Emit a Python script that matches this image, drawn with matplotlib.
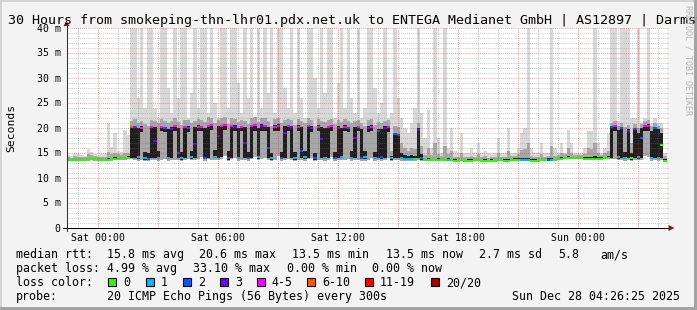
import matplotlib
matplotlib.use('Agg')
import matplotlib.pyplot as plt
from matplotlib.patches import Rectangle, Polygon
from matplotlib.collections import LineCollection
import numpy as np

W, H = 697, 310
STEP = 1 / 6                      # 10-minute steps, in hours
SAT0 = 1 + 33 / 60 + 35 / 3600    # hours from graph start to Sat 00:00

title = "30 Hours from smokeping-thn-lhr01.pdx.net.uk to ENTEGA Medianet GmbH | AS12897 | Darmstadt"
x_tick_labels = ["Sat 00:00", "Sat 06:00", "Sat 12:00", "Sat 18:00", "Sun 00:00"]
y_ticks = [0, 5, 10, 15, 20, 25, 30, 35, 40]
y_tick_labels = ["0", "5 m", "10 m", "15 m", "20 m", "25 m", "30 m", "35 m", "40 m"]
loss_labels = ["0", "1", "2", "3", "4-5", "6-10", "11-19", "20/20"]
loss_colors = ["#26ff00", "#00b8ff", "#0059ff", "#6a00ff", "#ff00ff", "#ff5500", "#ff0000", "#a00000"]

# median rtt (ms) per 10-minute step
med = [13.6,13.6,13.7,13.7,13.6,13.6,13.8,13.9,13.8,13.7,13.6,13.6,13.7,13.8,13.9,14.0,14.0,14.0,14.1,
       20.3,20.2,14.2,20.1,14.0,13.8,20.3,17.5,14.1,20.2,20.0,14.0,
       19.8,20.4,15.0,14.1,20.3,20.1,14.2,16.8,20.3,20.2,14.0,20.5,
       20.6,14.3,18.5,20.4,20.6,14.1,20.5,20.3,14.0,20.2,17.0,14.1,
       20.4,20.6,14.2,20.5,20.4,16.0,14.0,20.3,20.5,14.1,19.0,20.4,
       20.2,14.0,20.3,15.5,14.2,20.4,20.1,14.0,20.3,17.8,14.1,20.2,
       20.4,14.0,20.1,14.3,20.3,20.0,14.1,18.0,20.2,14.0,14.2,20.1,
       20.3,14.0,19.5,14.2,20.0,20.2,14.0,18.8,18.6,14.1,13.9,13.8,
       13.9,13.8,19.7,14.0,13.6,
       13.7,13.7,13.6,13.7,13.6,13.6,13.7,13.6,13.5,13.5,13.6,13.5,
       13.5,13.5,13.6,13.6,13.5,13.5,13.4,13.5,13.5,13.6,13.6,13.5,
       13.5,13.6,13.7,13.7,13.6,13.7,13.7,13.5,13.5,13.5,13.6,13.6,
       13.7,13.7,13.6,13.8,13.9,14.0,14.0,14.0,14.0,14.0,14.0,13.9,
       13.9,13.9,13.9,13.9,13.9,14.0,14.0,
       20.3,20.4,14.2,20.0,14.0,19.5,14.0,19.8,14.3,18.0,20.4,20.5,14.1,20.0,14.0,16.6,13.5]

# lost pings (of 20) per step
loss = [0]*19 + [
       7,2,1,4,1,2,5,3,1,4,2,1,
       3,5,2,1,4,2,1,3,5,4,2,5,
       4,1,3,5,4,2,4,3,1,5,3,2,
       4,5,1,3,4,2,1,5,4,2,3,4,
       3,1,5,2,1,4,3,2,5,3,1,4,
       5,2,3,1,4,2,1,3,4,2,1,3,
       4,1,2,2,3,4,1,2,2,1,1,1,
       1,0,3,2,0,
       0,0,0,0,0,0,1,0,0,0,0,0,
       0,0,0,0,0,0,0,0,0,0,0,0,
       0,0,0,0,1,1,1,0,0,0,0,0,
       2,1,0,0,0,0,0,0,0,0,0,0,
       0,0,0,0,0,0,0,
       2,4,1,2,1,3,0,2,1,2,4,5,1,2,1,0,0]

# smoke: min ping, dense core low/high, 90% ping, max ping (ms)
lo = [13.4,13.4,13.5,13.5,13.4,13.4,13.5,13.6,13.5,13.5,13.4,13.4,13.5,13.5,13.6,13.7,13.7,13.7,13.8,
      13.8,13.6,13.5,13.6,13.5,13.4,13.7,13.6,13.5,13.7,13.8,13.5,
      13.6,13.7,13.6,13.4,13.7,13.9,13.6,13.6,13.8,14.2,13.5,13.8,
      13.7,13.6,13.7,13.8,14.5,13.5,13.8,14.0,13.5,13.7,13.6,13.5,
      13.8,14.3,13.6,13.8,14.0,13.6,13.5,13.7,14.4,13.5,13.7,13.8,
      13.7,13.4,13.7,13.6,13.5,13.8,14.0,13.4,13.7,13.6,13.5,13.7,
      14.2,13.5,13.7,13.6,13.7,13.9,13.5,13.6,13.7,13.5,13.5,13.7,
      14.0,13.5,13.6,13.5,13.7,14.0,13.5,13.6,13.6,13.5,13.5,13.5,
      13.5,13.5,13.6,13.5,13.4,
      13.5,13.5,13.4,13.5,13.4,13.4,13.5,13.4,13.3,13.3,13.4,13.3,
      13.3,13.3,13.4,13.4,13.3,13.3,13.2,13.3,13.3,13.4,13.4,13.3,
      13.3,13.4,13.5,13.5,13.4,13.5,13.5,13.3,13.3,13.3,13.4,13.4,
      13.5,13.5,13.4,13.6,13.7,13.8,13.8,13.8,13.8,13.8,13.8,13.7,
      13.7,13.7,13.7,13.7,13.7,13.8,13.8,
      13.8,13.8,13.6,13.7,13.5,13.6,13.5,13.6,13.6,13.6,14.5,14.2,13.5,13.6,13.5,13.6,13.4]

core_lo = [13.5,13.5,13.6,13.6,13.5,13.5,13.7,13.8,13.7,13.6,13.5,13.5,13.6,13.7,13.8,13.9,13.9,13.9,14.0,
      14.0,14.0,13.9,19.3,13.7,13.6,14.1,14.0,13.8,19.4,19.2,13.8,
      14.0,19.5,14.0,13.7,14.0,19.3,13.9,14.0,19.5,19.4,13.8,14.1,
      19.6,14.0,14.1,14.2,19.6,13.7,14.1,19.4,13.8,19.4,14.0,13.9,
      14.1,19.5,13.9,19.5,19.4,14.0,13.7,19.4,19.5,13.8,14.1,19.4,
      14.0,13.7,19.5,14.0,13.9,14.1,19.3,13.7,19.4,14.0,13.8,14.0,
      19.4,13.8,14.0,14.0,19.5,19.2,13.8,14.0,19.4,13.8,13.8,19.3,
      19.4,13.8,14.0,13.9,14.0,19.2,13.7,14.0,14.0,13.8,13.7,13.6,
      13.7,13.6,14.0,13.7,13.5,
      13.6,13.6,13.5,13.6,13.5,13.5,13.6,13.5,13.4,13.4,13.5,13.4,
      13.4,13.4,13.5,13.5,13.4,13.4,13.3,13.4,13.4,13.5,13.5,13.4,
      13.4,13.5,13.6,13.6,13.5,13.6,13.6,13.4,13.4,13.4,13.5,13.5,
      13.6,13.6,13.5,13.7,13.8,13.9,13.9,13.9,13.9,13.9,13.9,13.8,
      13.8,13.8,13.8,13.8,13.8,13.9,13.9,
      14.1,19.5,13.9,14.0,13.8,14.0,13.7,14.0,13.9,14.0,19.5,19.4,13.8,14.0,13.8,14.0,13.5]

core_hi = [13.8,13.8,13.9,13.9,13.8,13.8,14.1,14.1,14.0,13.9,13.8,13.8,14.0,14.1,14.2,14.3,14.3,14.3,14.4,
      20.5,20.4,20.0,20.4,15.2,15.0,20.5,20.2,15.4,20.5,20.3,19.9,
      20.2,20.6,20.0,15.2,20.5,20.4,15.5,20.2,20.6,20.5,20.0,20.7,
      20.8,15.6,20.4,20.7,20.9,15.4,20.7,20.6,20.0,20.5,20.2,15.3,
      20.7,20.9,20.1,20.8,20.7,20.3,15.0,20.6,20.8,15.3,20.4,20.7,
      20.5,15.3,20.6,20.2,15.5,20.7,20.4,15.1,20.6,20.3,20.0,20.5,
      20.7,15.2,20.4,20.0,20.6,20.3,15.4,20.2,20.5,19.8,15.5,20.4,
      20.6,15.2,19.9,19.8,20.4,20.5,14.5,19.0,18.8,15.0,14.6,14.4,
      14.6,14.4,20.0,14.8,13.9,
      14.0,13.9,13.9,14.0,13.8,13.9,14.0,13.9,13.8,13.7,13.9,13.7,
      13.8,13.8,13.9,13.9,13.7,13.8,13.7,13.8,13.7,13.9,13.9,13.8,
      13.9,13.9,14.0,14.1,14.0,14.1,14.1,13.8,13.8,13.7,13.9,13.9,
      14.1,14.0,13.9,14.1,14.2,14.3,14.4,14.3,14.3,14.3,14.3,14.2,
      14.3,14.2,14.4,14.2,14.2,14.3,14.4,
      20.5,20.6,19.6,20.2,15.2,19.8,15.0,20.0,19.0,20.0,20.7,20.8,19.5,20.2,19.8,19.0,13.9]

mid_hi = [14.2,14.1,14.4,14.3,14.2,14.2,14.8,14.6,14.4,14.3,14.2,14.3,15.2,14.8,15.0,14.9,14.7,15.1,15.0,
      21.5,21.8,21.0,21.5,20.8,20.5,21.6,21.4,21.0,21.8,21.5,21.0,
      21.4,22.0,21.3,20.6,21.7,21.6,21.0,21.5,21.8,21.7,21.2,22.2,
      22.0,21.0,21.6,22.0,22.2,20.8,22.0,21.8,21.2,21.7,21.4,20.8,
      22.0,22.3,21.3,22.1,22.0,21.5,20.5,21.8,22.1,21.0,21.6,21.9,
      21.7,20.6,21.8,21.4,21.0,22.0,21.6,20.5,21.8,21.5,21.2,21.7,
      21.9,20.8,21.6,21.2,21.8,21.4,21.0,21.4,21.7,21.0,20.5,21.6,
      21.8,20.6,21.2,21.0,21.5,21.6,15.5,20.5,20.2,17.0,16.0,15.5,
      16.0,15.8,21.0,16.5,14.6,
      16.0,14.6,17.0,14.8,14.4,16.5,14.8,15.5,14.3,14.2,15.0,14.2,
      14.2,14.5,14.3,14.8,14.2,14.4,14.1,14.2,14.2,15.0,14.3,14.2,
      15.5,14.4,14.5,14.8,15.6,15.8,17.0,14.5,14.2,14.2,14.8,14.3,
      14.5,16.5,14.5,14.6,15.0,14.8,16.0,15.0,14.7,14.7,14.7,14.8,
      16.0,15.8,17.0,15.0,14.6,15.0,15.5,
      21.0,21.5,20.5,21.0,20.3,20.6,17.0,20.8,20.0,20.8,21.5,21.6,20.5,21.0,20.5,20.0,14.5]

hi = [14.6,14.4,15.0,14.9,14.6,14.5,15.8,15.2,14.9,14.7,14.8,15.0,21.0,16.2,19.0,15.5,15.2,19.6,18.6,
      45,45,26,45,24,45,45,24,22,45,45,28,
      23,45,26,45,45,22,27,45,24,45,45,23,
      45,25,22,45,45,24,45,45,29,23,45,26,
      45,22,45,24,45,27,45,23,45,45,28,24,
      45,23,45,26,22,45,45,30,24,45,27,45,
      45,22,29,45,24,45,26,23,45,22,24,45,
      45,28,23,25,45,22,23,45,26,22,20,19,
      21,24,45,23,18,
      23.6,16,45,18,15,45,16,20,15.5,15,19,15,
      15,16,15,17,15,15.5,15,14.8,15,18,15,15,
      20,15,15,16,19,20,45,16,15,15,17,15,
      15,45,16,15,17,15,19.6,17,15,15,15,16,
      19.5,19.5,45,17,15,16,19,
      45,45,21.5,45,45,45,22,22,45,21,22,45,21,22,21,21,15]

legend_rtt = [("median rtt:", 16), ("15.8 ms avg", 107.3), ("20.6 ms max", 199.3),
              ("13.5 ms min", 291.7), ("13.5 ms now", 385.7), ("2.7 ms sd", 479.3),
              ("5.8", 558.3), ("am/s", 600)]
legend_loss = [("packet loss:", 16), ("4.99 % avg", 107.3), ("33.10 % max", 192.7),
               ("0.00 % min", 286.7), ("0.00 % now", 372.3)]
box_x = [108.3, 145.7, 182.7, 220, 256.7, 307, 365, 430.7]
probe_text = "20 ICMP Echo Pings (56 Bytes) every 300s"
stamp_text = "Sun Dec 28 04:26:25 2025"


def loss_index(n):
    if n <= 3:
        return n
    if n <= 5:
        return 4
    if n <= 10:
        return 5
    if n <= 19:
        return 6
    return 7


def fx(px):
    return px / W


def fy(py):
    return 1 - py / H


MONO = 'DejaVu Sans Mono'
fig = plt.figure(figsize=(W / 100, H / 100), dpi=100)
fig.patch.set_facecolor('#f3f3f3')

# frame
fig.add_artist(Rectangle((0, fy(2)), 1, 2 / H, transform=fig.transFigure, color='#d4d4d4', lw=0))
fig.add_artist(Rectangle((0, 0), 2 / W, 1, transform=fig.transFigure, color='#d4d4d4', lw=0))
fig.add_artist(Rectangle((0, 0), 1, 3 / H, transform=fig.transFigure, color='#a4a4a4', lw=0))
fig.add_artist(Rectangle((fx(694), 0), 3 / W, 1, transform=fig.transFigure, color='#a4a4a4', lw=0))

ax = fig.add_axes([fx(66.5), fy(228), 600 / W, 200 / H])
ax.set_facecolor('white')
for s in ax.spines.values():
    s.set_visible(False)
ax.set_xticks([])
ax.set_yticks([])
ax.set_xlim(0, 30)
ax.set_ylim(0, 40)

n = len(med)
xe = np.arange(n + 1) * STEP


def ext(a):
    a = np.asarray(a, float)
    return np.append(a, a[-1])


ax.fill_between(xe, ext(lo), ext(hi), step='post', color='#d9d9d9', lw=0, zorder=1)
ax.fill_between(xe, ext(lo), ext(mid_hi), step='post', color='#a8a8a8', lw=0, zorder=2)
ax.fill_between(xe, ext(core_lo), ext(core_hi), step='post', color='#1e1e1e', lw=0, zorder=3)

segs = [[(i * STEP, med[i]), ((i + 1) * STEP, med[i])] for i in range(n)]
cols = [loss_colors[loss_index(l)] for l in loss]
ax.add_collection(LineCollection(segs, colors=cols, linewidths=1.5, capstyle='butt', zorder=4))

# grid
minor_c = (0.45, 0.45, 0.45, 0.35)
major_c = (0.85, 0.15, 0.15, 0.38)
dash = (0, (1, 1))
k = -1
while True:
    xv = SAT0 + k
    if xv > 30.2:
        break
    if xv > 0.01:
        ax.plot([xv, xv], [0, 40], color=major_c if k % 3 == 0 else minor_c, lw=0.75,
                ls=dash, zorder=6, clip_on=False)
    k += 1
for yv in range(1, 41):
    ax.plot([0, 30.1], [yv, yv], color=major_c if yv % 5 == 0 else minor_c, lw=0.75,
            ls=dash, zorder=6, clip_on=False)

# axes lines + arrows
ax.plot([0, 0], [-0.6, 40.6], color='#303030', lw=0.75, zorder=7, clip_on=False)
ax.plot([-0.2, 30.15], [0, 0], color='#000000', lw=0.75, zorder=7, clip_on=False)
ax.add_patch(Polygon([(-0.15, 40.4), (0.15, 40.4), (0.0, 41.5)], closed=True,
                     color='#8b1a1a', lw=0, zorder=8, clip_on=False))
ax.add_patch(Polygon([(30.1, -0.6), (30.1, 0.6), (30.4, 0.0)], closed=True,
                     color='#8b1a1a', lw=0, zorder=8, clip_on=False))

# tick labels
for j, lab in enumerate(x_tick_labels):
    xv = SAT0 + 6 * j
    px = 66.5 + xv * 20
    fig.text(fx(px), fy(241), lab, ha='center', va='baseline', fontsize=7.1, family=MONO, color='#000000')
for yv, lab in zip(y_ticks, y_tick_labels):
    py = 228 - yv * 5
    fig.text(fx(60.5), fy(py + 3.5), lab, ha='right', va='baseline', fontsize=7.1, family=MONO)

fig.text(fx(11.5), fy(128), "Seconds", rotation=90, ha='center', va='center', fontsize=8.2, family=MONO)

fig.text(fx(8), fy(24), title, ha='left', va='baseline', fontsize=9.6, family=MONO)
fig.text(fx(688), fy(5), "RRDTOOL / TOBI OETIKER", rotation=270, ha='center', va='top',
         fontsize=6, family=MONO, color='#b4b4b4')

LF = 8.4
for txt, px in legend_rtt:
    fig.text(fx(px), fy(258), txt, ha='left', va='baseline', fontsize=LF, family=MONO)
for txt, px in legend_loss:
    fig.text(fx(px), fy(272), txt, ha='left', va='baseline', fontsize=LF, family=MONO)
fig.text(fx(16), fy(286), "loss color:", ha='left', va='baseline', fontsize=LF, family=MONO)
for bx, lab, col in zip(box_x, loss_labels, loss_colors):
    fig.add_artist(Rectangle((fx(bx), fy(286)), 8 / W, 8 / H, transform=fig.transFigure,
                             facecolor=col, edgecolor='black', lw=0.8))
    fig.text(fx(bx + 15), fy(286), lab, ha='left', va='baseline', fontsize=LF, family=MONO)
fig.text(fx(16), fy(300), "probe:", ha='left', va='baseline', fontsize=LF, family=MONO)
fig.text(fx(107.3), fy(300), probe_text, ha='left', va='baseline', fontsize=LF, family=MONO)
fig.text(fx(680), fy(300), stamp_text, ha='right', va='baseline', fontsize=LF, family=MONO)

fig.savefig('out.png', dpi=100, facecolor=fig.get_facecolor())
